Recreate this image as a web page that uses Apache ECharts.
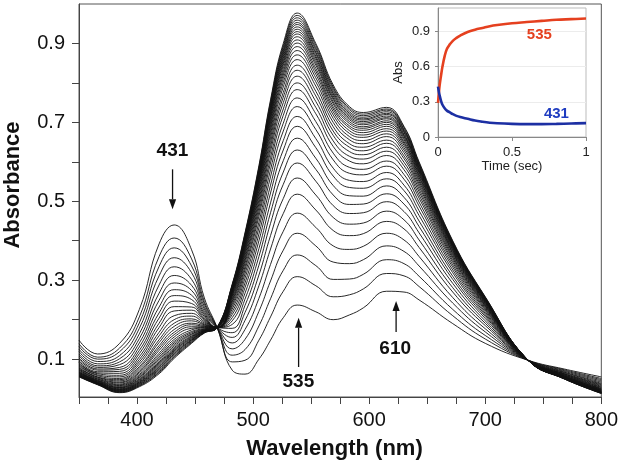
<!DOCTYPE html>
<html><head><meta charset="utf-8">
<script src="https://cdn.jsdelivr.net/npm/echarts@6/dist/echarts.min.js"></script>
<style>html,body{margin:0;padding:0;background:#fff}#c{width:621px;height:465px}</style>
</head><body><div id="c"></div>
<script>
// ---------- main spectra (absorbance vs wavelength, nm) ----------
const wavelengths = [350, 366, 385, 402, 419, 432, 447, 458, 469, 482, 493, 505, 515, 526, 538, 554, 569, 583, 595, 615, 630, 643, 672, 700, 737, 768, 800];
const spectra = [
 [0.148,0.113,0.140,0.226,0.392,0.440,0.377,0.255,0.180,0.072,0.062,0.100,0.148,0.205,0.237,0.220,0.200,0.212,0.230,0.272,0.270,0.250,0.190,0.140,0.097,0.075,0.055],
 [0.139,0.105,0.128,0.207,0.360,0.407,0.354,0.246,0.180,0.093,0.097,0.148,0.207,0.272,0.309,0.286,0.258,0.263,0.278,0.317,0.311,0.284,0.210,0.151,0.097,0.073,0.051],
 [0.132,0.100,0.119,0.192,0.335,0.382,0.336,0.240,0.180,0.110,0.124,0.184,0.253,0.325,0.364,0.337,0.302,0.303,0.315,0.352,0.342,0.310,0.226,0.160,0.097,0.071,0.048],
 [0.125,0.094,0.109,0.178,0.311,0.357,0.319,0.233,0.180,0.126,0.150,0.221,0.298,0.376,0.419,0.387,0.346,0.342,0.352,0.387,0.373,0.336,0.242,0.169,0.097,0.069,0.045],
 [0.119,0.088,0.101,0.164,0.288,0.334,0.302,0.227,0.180,0.141,0.175,0.254,0.340,0.424,0.470,0.434,0.387,0.378,0.386,0.419,0.402,0.360,0.256,0.177,0.097,0.067,0.042],
 [0.113,0.083,0.093,0.152,0.267,0.312,0.287,0.221,0.180,0.155,0.198,0.286,0.379,0.469,0.518,0.478,0.426,0.413,0.418,0.449,0.430,0.383,0.270,0.185,0.097,0.066,0.039],
 [0.108,0.079,0.086,0.141,0.249,0.293,0.274,0.216,0.180,0.167,0.218,0.313,0.413,0.507,0.559,0.516,0.459,0.442,0.445,0.475,0.453,0.402,0.281,0.191,0.097,0.064,0.037],
 [0.103,0.075,0.079,0.131,0.232,0.276,0.262,0.212,0.180,0.178,0.236,0.338,0.444,0.543,0.597,0.551,0.489,0.469,0.471,0.499,0.474,0.420,0.292,0.197,0.097,0.063,0.035],
 [0.099,0.072,0.074,0.122,0.217,0.261,0.251,0.208,0.180,0.188,0.252,0.360,0.471,0.574,0.630,0.581,0.516,0.492,0.493,0.519,0.493,0.436,0.302,0.203,0.097,0.062,0.033],
 [0.095,0.068,0.069,0.114,0.204,0.247,0.241,0.204,0.180,0.197,0.267,0.380,0.496,0.603,0.660,0.609,0.540,0.514,0.513,0.539,0.510,0.450,0.310,0.208,0.097,0.061,0.031],
 [0.091,0.065,0.064,0.106,0.191,0.233,0.232,0.201,0.180,0.205,0.281,0.400,0.521,0.630,0.690,0.636,0.564,0.535,0.533,0.557,0.527,0.464,0.319,0.212,0.097,0.060,0.029],
 [0.088,0.063,0.059,0.099,0.180,0.222,0.224,0.198,0.180,0.213,0.293,0.417,0.541,0.654,0.715,0.659,0.584,0.553,0.550,0.573,0.541,0.476,0.326,0.216,0.097,0.059,0.028],
 [0.085,0.060,0.055,0.093,0.168,0.210,0.216,0.195,0.180,0.220,0.305,0.433,0.562,0.678,0.740,0.682,0.605,0.571,0.567,0.589,0.556,0.488,0.333,0.220,0.097,0.058,0.026],
 [0.082,0.058,0.051,0.087,0.159,0.200,0.209,0.192,0.180,0.227,0.316,0.447,0.580,0.698,0.762,0.702,0.622,0.586,0.581,0.602,0.568,0.498,0.339,0.224,0.097,0.057,0.025],
 [0.079,0.055,0.048,0.081,0.149,0.191,0.202,0.189,0.180,0.233,0.326,0.462,0.597,0.718,0.783,0.722,0.639,0.602,0.595,0.616,0.580,0.508,0.345,0.227,0.097,0.057,0.024],
 [0.077,0.054,0.045,0.077,0.142,0.183,0.197,0.187,0.180,0.238,0.334,0.473,0.611,0.734,0.800,0.738,0.653,0.614,0.607,0.627,0.590,0.516,0.350,0.230,0.097,0.056,0.023],
 [0.075,0.052,0.042,0.072,0.134,0.175,0.191,0.185,0.180,0.243,0.343,0.484,0.626,0.750,0.817,0.753,0.667,0.626,0.618,0.637,0.599,0.524,0.355,0.233,0.097,0.055,0.022],
 [0.073,0.050,0.040,0.068,0.128,0.168,0.187,0.183,0.180,0.247,0.350,0.494,0.638,0.764,0.832,0.767,0.678,0.637,0.628,0.647,0.608,0.531,0.359,0.235,0.097,0.055,0.021],
 [0.072,0.049,0.037,0.065,0.122,0.162,0.182,0.182,0.180,0.251,0.356,0.503,0.649,0.776,0.845,0.779,0.689,0.646,0.637,0.655,0.615,0.538,0.363,0.237,0.097,0.054,0.021],
 [0.070,0.047,0.035,0.061,0.115,0.156,0.178,0.180,0.180,0.255,0.363,0.512,0.660,0.790,0.859,0.792,0.700,0.656,0.646,0.664,0.623,0.544,0.367,0.239,0.097,0.054,0.020],
 [0.068,0.046,0.033,0.058,0.110,0.150,0.174,0.179,0.180,0.259,0.369,0.520,0.670,0.801,0.871,0.803,0.710,0.664,0.654,0.671,0.630,0.550,0.370,0.241,0.097,0.054,0.019],
 [0.067,0.045,0.031,0.055,0.105,0.145,0.170,0.177,0.180,0.262,0.374,0.527,0.679,0.811,0.882,0.813,0.719,0.672,0.662,0.678,0.636,0.555,0.373,0.243,0.097,0.053,0.018],
 [0.066,0.044,0.029,0.053,0.101,0.141,0.167,0.176,0.180,0.265,0.379,0.534,0.687,0.820,0.892,0.822,0.727,0.679,0.668,0.684,0.642,0.560,0.376,0.244,0.097,0.053,0.018],
 [0.065,0.043,0.028,0.050,0.097,0.137,0.164,0.175,0.180,0.268,0.383,0.540,0.694,0.828,0.901,0.830,0.734,0.686,0.674,0.690,0.647,0.564,0.378,0.246,0.097,0.053,0.017],
 [0.064,0.042,0.027,0.048,0.093,0.133,0.162,0.174,0.180,0.270,0.387,0.545,0.701,0.836,0.909,0.837,0.740,0.691,0.680,0.695,0.651,0.568,0.381,0.247,0.097,0.052,0.017],
 [0.063,0.041,0.025,0.046,0.090,0.129,0.159,0.173,0.180,0.272,0.391,0.550,0.708,0.844,0.917,0.845,0.747,0.697,0.685,0.700,0.656,0.572,0.383,0.248,0.097,0.052,0.016],
 [0.062,0.041,0.024,0.044,0.087,0.126,0.157,0.172,0.180,0.274,0.394,0.555,0.713,0.850,0.924,0.851,0.752,0.702,0.689,0.704,0.660,0.575,0.385,0.250,0.097,0.052,0.016],
 [0.061,0.040,0.023,0.042,0.084,0.123,0.155,0.172,0.180,0.276,0.397,0.559,0.719,0.856,0.930,0.857,0.758,0.707,0.694,0.709,0.664,0.578,0.387,0.251,0.097,0.052,0.016],
 [0.060,0.039,0.022,0.041,0.081,0.121,0.153,0.171,0.180,0.278,0.400,0.563,0.724,0.862,0.936,0.863,0.762,0.711,0.698,0.712,0.667,0.581,0.389,0.252,0.097,0.051,0.015],
 [0.059,0.039,0.021,0.039,0.079,0.118,0.151,0.170,0.180,0.280,0.403,0.567,0.728,0.867,0.942,0.868,0.767,0.715,0.702,0.716,0.670,0.584,0.390,0.252,0.097,0.051,0.015],
 [0.059,0.038,0.020,0.038,0.076,0.115,0.149,0.170,0.180,0.282,0.406,0.571,0.733,0.873,0.948,0.874,0.772,0.719,0.706,0.720,0.674,0.586,0.392,0.253,0.097,0.051,0.015],
 [0.058,0.038,0.019,0.036,0.074,0.113,0.148,0.169,0.180,0.283,0.409,0.574,0.738,0.878,0.953,0.878,0.776,0.723,0.709,0.723,0.677,0.589,0.393,0.254,0.097,0.051,0.014],
 [0.057,0.037,0.018,0.035,0.071,0.110,0.146,0.168,0.180,0.285,0.411,0.578,0.742,0.883,0.959,0.884,0.781,0.727,0.713,0.727,0.680,0.592,0.395,0.255,0.097,0.051,0.014],
 [0.056,0.036,0.017,0.033,0.068,0.107,0.144,0.167,0.180,0.287,0.414,0.582,0.747,0.889,0.965,0.889,0.786,0.732,0.717,0.731,0.683,0.594,0.397,0.256,0.097,0.050,0.014],
 [0.056,0.036,0.016,0.032,0.066,0.105,0.142,0.167,0.180,0.288,0.417,0.586,0.752,0.894,0.971,0.895,0.790,0.736,0.721,0.734,0.687,0.597,0.398,0.257,0.097,0.050,0.013],
 [0.055,0.035,0.015,0.030,0.063,0.102,0.140,0.166,0.180,0.290,0.420,0.590,0.757,0.900,0.977,0.900,0.795,0.740,0.725,0.738,0.690,0.600,0.400,0.258,0.097,0.050,0.013]
];
const xTickLabels = [400, 500, 600, 700, 800];
const yTickLabels = [0.1, 0.3, 0.5, 0.7, 0.9];
const yTickMarks = [0.1, 0.2, 0.3, 0.4, 0.5, 0.6, 0.7, 0.8, 0.9];

// ---------- inset kinetics (absorbance vs time, s) ----------
const insetTime   = [0, 0.005, 0.01, 0.02, 0.03, 0.045, 0.06, 0.08, 0.1, 0.125, 0.15, 0.2, 0.25, 0.3, 0.35, 0.4, 0.5, 0.6, 0.7, 0.8, 0.9, 1.0];
const insetAbs535 = [0.29, 0.36, 0.43, 0.52, 0.60, 0.69, 0.75, 0.79, 0.82, 0.845, 0.865, 0.895, 0.915, 0.93, 0.945, 0.955, 0.97, 0.98, 0.99, 1.0, 1.005, 1.01];
const insetAbs431 = [0.43, 0.39, 0.36, 0.31, 0.275, 0.245, 0.225, 0.21, 0.195, 0.18, 0.17, 0.155, 0.14, 0.13, 0.122, 0.117, 0.112, 0.11, 0.11, 0.112, 0.115, 0.118];
const insetYTicks = [0, 0.3, 0.6, 0.9];

const FONT = '"Liberation Sans", Arial, Helvetica, sans-serif';

const spectraSeries = spectra.map((s, k) => ({
  type: 'line', xAxisIndex: 0, yAxisIndex: 0, name: 'scan' + (k + 1),
  data: wavelengths.map((w, i) => [w, s[i]]),
  smooth: 0.45, showSymbol: false, symbol: 'none', silent: true,
  lineStyle: { color: '#111', width: 0.9 }, z: 2
}));

const option = {
  animation: false,
  backgroundColor: '#fff',
  grid: [
    { left: 79, top: 4, right: 18, bottom: 68, show: true, borderColor: '#555', borderWidth: 1 },
    { left: 438, top: 8, width: 148, bottom: 328, show: true, borderColor: '#bbb', borderWidth: 1 }
  ],
  xAxis: [
    { type: 'value', gridIndex: 0, min: 350, max: 800, interval: 25,
      axisLine: { show: true, onZero: false, lineStyle: { color: '#444', width: 1 } },
      axisTick: { show: true, length: 7, lineStyle: { color: '#444' } },
      axisLabel: { color: '#111', fontSize: 20, fontFamily: FONT, margin: 13,
        formatter: v => (xTickLabels.indexOf(v) >= 0 ? String(v) : '') },
      splitLine: { show: false } },
    { type: 'value', gridIndex: 1, min: 0, max: 1, interval: 0.5,
      axisLine: { show: true, onZero: false, lineStyle: { color: '#888' } },
      axisTick: { show: true, length: 4, lineStyle: { color: '#888' } },
      axisLabel: { color: '#222', fontSize: 13, fontFamily: FONT, margin: 9 },
      splitLine: { show: false } }
  ],
  yAxis: [
    { type: 'value', gridIndex: 0, min: 0.004, max: 1.0,
      axisLine: { show: true, onZero: false, lineStyle: { color: '#444', width: 1 } },
      axisTick: { show: true, length: 7, lineStyle: { color: '#444' }, customValues: yTickMarks },
      axisLabel: { color: '#111', fontSize: 20, fontFamily: FONT, margin: 14, customValues: yTickLabels,
        formatter: v => v.toFixed(1) },
      splitLine: { show: false } },
    { type: 'value', gridIndex: 1, min: 0, max: 1.1, interval: 0.3,
      axisLine: { show: true, onZero: false, lineStyle: { color: '#888' } },
      axisTick: { show: true, length: 3, lineStyle: { color: '#888' }, customValues: insetYTicks },
      axisLabel: { color: '#222', fontSize: 13, fontFamily: FONT, margin: 8, customValues: insetYTicks,
        formatter: v => String(+v.toFixed(1)) },
      splitLine: { show: true, lineStyle: { color: '#ececec', width: 1 } } }
  ],
  series: spectraSeries.concat([
    { type: 'line', xAxisIndex: 1, yAxisIndex: 1, name: '535 nm',
      data: insetTime.map((t, i) => [t, insetAbs535[i]]),
      smooth: 0.4, showSymbol: false, symbol: 'none', silent: true,
      lineStyle: { color: '#e5401f', width: 2.6 }, z: 5 },
    { type: 'line', xAxisIndex: 1, yAxisIndex: 1, name: '431 nm',
      data: insetTime.map((t, i) => [t, insetAbs431[i]]),
      smooth: 0.4, showSymbol: false, symbol: 'none', silent: true,
      lineStyle: { color: '#1c2fa3', width: 2.6 }, z: 5 }
  ])
};

const chart = echarts.init(document.getElementById('c'), null, { renderer: 'canvas' });
chart.setOption(option);

// ---------- annotations (positions in data units) ----------
const peakNotes = [
  { text: '431', label: [430.5, 0.627], from: [430.6, 0.581], to: [430.6, 0.480] },
  { text: '535', label: [539.0, 0.042], from: [539.2, 0.080], to: [539.2, 0.205] },
  { text: '610', label: [622.4, 0.125], from: [623.2, 0.169], to: [623.2, 0.247] }
];
const insetNotes = [
  { text: '535', at: [0.685, 0.868], color: '#e5401f' },
  { text: '431', at: [0.80, 0.197], color: '#1f3cc0' }
];

const P0 = p => chart.convertToPixel({ gridIndex: 0 }, p);
const P1 = p => chart.convertToPixel({ gridIndex: 1 }, p);
const graphics = [];
peakNotes.forEach(n => {
  const l = P0(n.label), a = P0(n.from), b = P0(n.to);
  const dir = b[1] > a[1] ? 1 : -1;
  const head = 10, hw = 3.6;
  graphics.push({ type: 'text', x: l[0], y: l[1], z: 10,
    style: { text: n.text, font: 'bold 19px ' + FONT, fill: '#111', align: 'center', verticalAlign: 'middle' } });
  graphics.push({ type: 'line', z: 10,
    shape: { x1: a[0], y1: a[1], x2: b[0], y2: b[1] - dir * head },
    style: { stroke: '#111', lineWidth: 1.3 } });
  graphics.push({ type: 'polygon', z: 10,
    shape: { points: [[b[0], b[1]], [b[0] - hw, b[1] - dir * head], [b[0] + hw, b[1] - dir * head]] },
    style: { fill: '#111' } });
});
insetNotes.forEach(n => {
  const p = P1(n.at);
  graphics.push({ type: 'text', x: p[0], y: p[1], z: 10,
    style: { text: n.text, font: 'bold 15px ' + FONT, fill: n.color, align: 'center', verticalAlign: 'middle' } });
});
// axis titles
graphics.push({ type: 'text', x: 334.5, y: 448.5, z: 10,
  style: { text: 'Wavelength (nm)', font: 'bold 22px ' + FONT, fill: '#111', align: 'center', verticalAlign: 'middle' } });
graphics.push({ type: 'text', x: 13, y: 185, rotation: Math.PI / 2, z: 10,
  style: { text: 'Absorbance', font: 'bold 22px ' + FONT, fill: '#111', align: 'center', verticalAlign: 'middle' } });
graphics.push({ type: 'text', x: 512, y: 166.5, z: 10,
  style: { text: 'Time (sec)', font: '13px ' + FONT, fill: '#222', align: 'center', verticalAlign: 'middle' } });
graphics.push({ type: 'text', x: 398.5, y: 72.5, rotation: Math.PI / 2, z: 10,
  style: { text: 'Abs', font: '13px ' + FONT, fill: '#222', align: 'center', verticalAlign: 'middle' } });

chart.setOption({ graphic: graphics });
</script>
</body></html>
